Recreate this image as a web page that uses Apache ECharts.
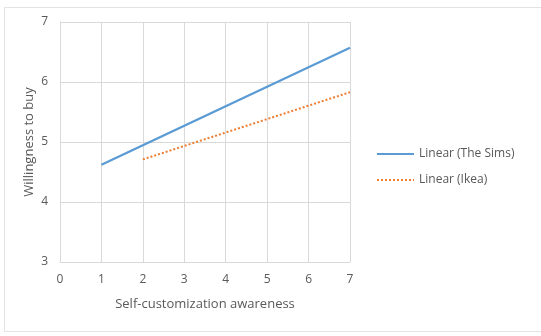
<!DOCTYPE html>
<html>
<head>
<meta charset="utf-8">
<script src="https://cdn.jsdelivr.net/npm/echarts@6/dist/echarts.min.js"></script>
<style>
  html, body { margin: 0; padding: 0; background: #fff; }
  #chart { width: 541px; height: 336px; }
</style>
</head>
<body>
<div id="chart"></div>
<script>
// trendline endpoints
var simsX = [1, 7];
var simsY = [4.62, 6.57];
var ikeaX = [2, 7];
var ikeaY = [4.71, 5.83];
var seriesNames = ['Linear (The Sims)', 'Linear (Ikea)'];

function pairs(xs, ys) {
  return xs.map(function (x, i) { return [x, ys[i]]; });
}

var font = 'Open Sans, Liberation Sans, sans-serif';
var textColor = '#595959';
var gridColor = '#d9d9d9';

var chart = echarts.init(document.getElementById('chart'));
var option = {
  animation: false,
  textStyle: { fontFamily: font },
  graphic: [{
    type: 'rect',
    left: 2, top: 5,
    shape: { width: 537, height: 324 },
    style: { fill: 'none', stroke: '#e3e3e3', lineWidth: 1 },
    silent: true
  }],
  grid: { left: 60, right: 191, top: 22, bottom: 74, containLabel: false },
  legend: {
    orient: 'vertical',
    left: 376,
    top: 148,
    padding: 0,
    itemWidth: 37,
    itemHeight: 14,
    itemGap: 14,
    itemStyle: { opacity: 0 },
    textStyle: { color: textColor, fontSize: 12, fontFamily: font },
    data: seriesNames
  },
  xAxis: {
    type: 'value',
    min: 0, max: 7, interval: 1,
    name: 'Self-customization awareness',
    nameLocation: 'middle',
    nameGap: 36,
    nameTextStyle: { color: textColor, fontSize: 13, fontFamily: font },
    axisLine: { show: true, lineStyle: { color: gridColor } },
    axisTick: { show: false },
    axisLabel: { color: textColor, fontSize: 12, margin: 12, fontFamily: font },
    splitLine: { show: true, lineStyle: { color: gridColor } }
  },
  yAxis: {
    type: 'value',
    min: 3, max: 7, interval: 1,
    name: 'Willingness to buy',
    nameLocation: 'middle',
    nameGap: 24,
    nameMoveOverlap: false,
    nameTextStyle: { color: textColor, fontSize: 13, fontFamily: font },
    axisLine: { show: true, lineStyle: { color: gridColor } },
    axisTick: { show: false },
    axisLabel: { color: textColor, fontSize: 12, margin: 12, fontFamily: font },
    splitLine: { show: true, lineStyle: { color: gridColor } }
  },
  series: [
    {
      name: seriesNames[0],
      type: 'line',
      data: pairs(simsX, simsY),
      symbol: 'none',
      lineStyle: { color: '#5b9bd5', width: 2.25 },
      itemStyle: { color: '#5b9bd5' }
    },
    {
      name: seriesNames[1],
      type: 'line',
      data: pairs(ikeaX, ikeaY),
      symbol: 'none',
      lineStyle: { color: '#ed7d31', width: 2, type: [2, 2] },
      itemStyle: { color: '#ed7d31' }
    }
  ]
};
chart.setOption(option);
</script>
</body>
</html>
